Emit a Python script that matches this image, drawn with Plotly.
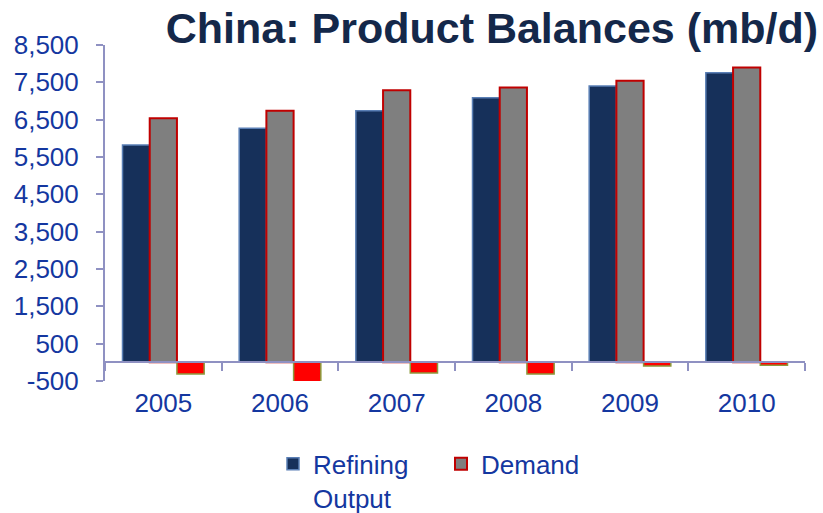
import plotly.graph_objects as go

years = ["2005", "2006", "2007", "2008", "2009", "2010"]
refining_output = [5820, 6270, 6740, 7090, 7400, 7760]
demand = [6540, 6740, 7290, 7360, 7540, 7900]
net_balance = [-310, -600, -285, -315, -100, -75]
y_ticks = [-500, 500, 1500, 2500, 3500, 4500, 5500, 6500, 7500, 8500]
y_tick_text = ["-500", "500", "1,500", "2,500", "3,500", "4,500", "5,500", "6,500", "7,500", "8,500"]

FONT = "Arial, Liberation Sans, sans-serif"
TXT = "#1437A0"
AXC = "#8F91C2"

fig = go.Figure()
fig.add_trace(go.Bar(x=years, y=refining_output, name="Refining<br>Output",
                     marker=dict(color="#16305A", line=dict(color="#5A7FB5", width=1.5))))
fig.add_trace(go.Bar(x=years, y=demand, name="Demand",
                     marker=dict(color="#7F7F7F", line=dict(color="#C00000", width=2))))
fig.add_trace(go.Bar(x=years, y=net_balance, name="Net", showlegend=False,
                     marker=dict(color="#FF0000", line=dict(color="#8C9A3C", width=1.5))))

fig.update_layout(
    width=823, height=513,
    margin=dict(l=105, r=18, t=45, b=132, autoexpand=False),
    paper_bgcolor="white", plot_bgcolor="white",
    barmode="group", bargap=0.3, bargroupgap=0,
    font=dict(family=FONT, color=TXT, size=26),
    title=dict(text="<b>China: Product Balances (mb/d)</b>",
               font=dict(family=FONT, size=43, color="#14284A"),
               x=0.994, xanchor="right", xref="container", y=0.975, yanchor="top"),
    showlegend=True,
    legend=dict(orientation="h", x=0.48, xanchor="center", y=-0.418, yanchor="bottom",
                font=dict(family=FONT, size=26, color=TXT), valign="top",
                entrywidth=123, traceorder="normal", tracegroupgap=0),
)
fig.update_yaxes(range=[-500, 8500], tickvals=y_ticks, ticktext=y_tick_text,
                 showgrid=False, zeroline=False, showline=True, linecolor=AXC, linewidth=2,
                 ticks="outside", ticklen=7, tickcolor=AXC, tickwidth=2,
                 ticklabelstandoff=12,
                 tickfont=dict(family=FONT, size=26, color=TXT))
fig.update_xaxes(type="category", anchor="free", position=500/9000,
                 showgrid=False, showline=True, linecolor=AXC, linewidth=2,
                 ticks="outside", tickson="boundaries", ticklen=8, tickcolor=AXC, tickwidth=2,
                 ticklabelstandoff=17,
                 tickfont=dict(family=FONT, size=26, color=TXT))

fig.write_html("out.html", config={"displayModeBar": False},
               post_script="document.body.style.margin='0px';")
